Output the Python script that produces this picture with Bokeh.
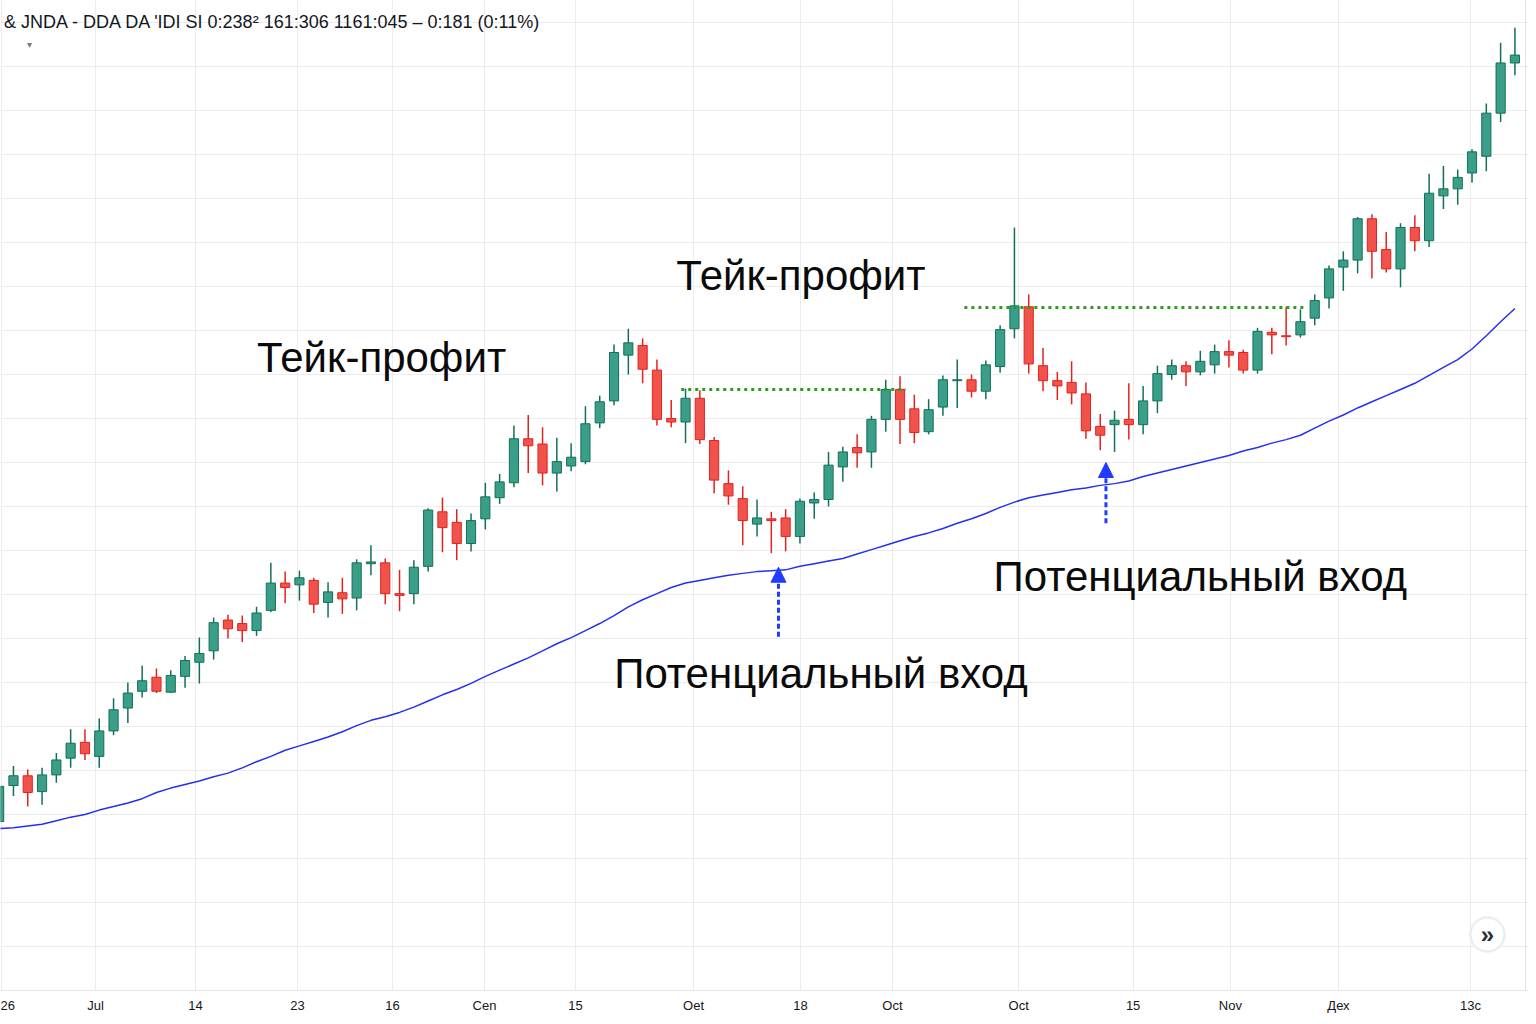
from bokeh.plotting import figure
from bokeh.models import (Range1d, FixedTicker, SingleIntervalTicker, Label, Arrow,
                          NormalHead, Span, ColumnDataSource)
from bokeh.embed import file_html
from bokeh.resources import INLINE

# ---------------- data ----------------
opens = [119.2, 123.3, 124.4, 122.6, 124.5, 126.4, 128.2, 126.6, 129.5, 132.1,
         134.0, 135.6, 133.9, 135.7, 137.3, 138.6, 142.1, 141.7, 140.9, 143.2,
         146.3, 146.1, 146.6, 144.1, 145.2, 144.6, 148.5, 148.6, 145.1, 145.1,
         148.2, 154.4, 153.2, 150.8, 153.6, 156.0, 157.7, 162.7, 162.1, 158.8,
         159.6, 160.1, 164.5, 167.0, 172.2, 173.3, 170.5, 165.0, 164.6, 167.3,
         162.5, 157.6, 155.9, 153.0, 153.6, 153.7, 151.6, 155.4, 155.8, 159.5,
         161.7, 161.2, 164.9, 168.3, 166.1, 163.5, 166.3, 169.3, 169.4, 168.1,
         170.9, 175.2, 177.7, 171.0, 169.3, 169.1, 167.8, 164.1, 164.3, 164.9,
         164.3, 167.0, 170.0, 171.0, 170.3, 171.1, 172.6, 172.5, 170.5, 174.8,
         174.4, 174.5, 176.4, 178.7, 182.2, 183.0, 187.7, 184.2, 182.0, 186.7,
         185.2, 190.3, 191.1, 192.9, 194.8, 199.7, 205.4]
highs = [123.8, 125.5, 125.1, 125.3, 127.0, 129.7, 129.7, 130.9, 133.2, 135.0,
         136.9, 136.6, 136.4, 138.0, 140.1, 142.4, 142.7, 142.6, 143.6, 148.6,
         147.6, 147.7, 146.9, 146.4, 146.9, 149.0, 150.6, 149.1, 147.8, 148.9,
         154.8, 156.0, 154.7, 154.2, 157.7, 158.7, 164.2, 165.4, 164.0, 162.8,
         162.2, 166.4, 167.6, 173.4, 175.2, 174.1, 171.7, 167.1, 168.4, 168.2,
         162.9, 159.1, 157.3, 155.8, 154.4, 154.7, 155.9, 156.6, 161.2, 161.8,
         163.2, 165.3, 169.4, 169.8, 167.7, 167.2, 169.9, 171.7, 170.0, 171.6,
         175.6, 186.7, 179.1, 173.0, 170.3, 171.5, 169.1, 165.5, 165.9, 169.0,
         168.7, 171.0, 171.7, 171.5, 172.7, 173.4, 173.9, 172.8, 175.3, 175.3,
         177.7, 177.4, 179.1, 182.4, 184.0, 187.9, 188.2, 186.2, 187.2, 188.1,
         192.8, 193.7, 193.3, 195.6, 200.8, 207.7, 209.4]
lows = [118.9, 122.1, 120.9, 121.1, 123.6, 125.3, 126.2, 125.3, 129.0, 130.4,
        133.3, 133.8, 133.8, 134.4, 134.9, 137.6, 140.0, 139.6, 140.3, 143.0,
        144.0, 144.3, 142.9, 142.4, 142.8, 143.2, 147.2, 143.9, 143.1, 143.9,
        147.6, 149.8, 148.9, 149.9, 152.4, 155.3, 157.2, 158.8, 157.4, 156.7,
        159.0, 159.8, 163.9, 166.5, 170.0, 169.0, 164.2, 164.0, 162.2, 162.1,
        156.5, 155.2, 150.6, 151.6, 149.7, 149.9, 150.8, 153.6, 155.0, 157.8,
        159.4, 159.4, 163.5, 162.1, 162.2, 163.2, 165.3, 166.2, 167.4, 167.2,
        170.2, 174.1, 170.1, 168.1, 167.1, 166.6, 162.7, 161.4, 161.2, 162.6,
        163.2, 165.6, 169.4, 168.7, 169.9, 170.1, 170.8, 170.1, 170.1, 172.3,
        173.3, 174.2, 175.6, 177.5, 179.5, 181.5, 180.9, 181.6, 179.9, 184.0,
        184.5, 188.8, 189.3, 191.8, 193.1, 198.7, 204.0]
closes = [123.2, 124.4, 122.5, 124.5, 126.2, 128.1, 126.9, 129.5, 131.9, 133.8,
          135.2, 134.0, 135.8, 137.5, 138.3, 141.8, 141.1, 140.9, 142.9, 146.3,
          145.8, 146.9, 143.9, 145.3, 144.5, 148.6, 148.7, 145.1, 144.9, 148.1,
          154.6, 152.6, 150.8, 153.4, 156.1, 157.8, 162.7, 161.9, 158.8, 160.1,
          160.6, 164.4, 166.9, 172.5, 173.6, 170.6, 164.9, 164.6, 167.3, 162.6,
          158.0, 156.2, 153.4, 153.7, 153.4, 151.6, 155.6, 155.8, 159.7, 161.2,
          161.1, 164.9, 168.3, 164.9, 163.4, 166.0, 169.4, 169.4, 168.1, 171.1,
          175.1, 177.8, 171.2, 169.3, 168.7, 167.9, 163.6, 163.1, 164.8, 164.3,
          167.0, 170.1, 171.0, 170.3, 171.5, 172.6, 172.2, 170.5, 174.9, 174.5,
          174.3, 176.0, 178.4, 182.0, 183.0, 187.7, 184.0, 182.0, 186.7, 185.2,
          190.6, 191.1, 192.4, 195.3, 199.7, 205.4, 206.3]
ma = [118.4, 118.5, 118.7, 118.9, 119.3, 119.7, 120.0, 120.5, 120.9, 121.3,
      121.8, 122.5, 123.0, 123.4, 123.8, 124.3, 124.7, 125.3, 126.0, 126.6,
      127.3, 127.8, 128.3, 128.8, 129.4, 130.1, 130.7, 131.1, 131.6, 132.2,
      132.9, 133.6, 134.2, 134.9, 135.7, 136.4, 137.1, 137.8, 138.6, 139.4,
      140.1, 140.9, 141.7, 142.6, 143.6, 144.4, 145.1, 145.8, 146.3, 146.6,
      146.9, 147.2, 147.4, 147.6, 147.7, 147.8, 148.2, 148.5, 148.8, 149.1,
      149.6, 150.1, 150.6, 151.1, 151.6, 152.0, 152.5, 153.1, 153.6, 154.2,
      154.9, 155.5, 156.0, 156.3, 156.6, 156.9, 157.1, 157.4, 157.6, 157.9,
      158.4, 158.8, 159.2, 159.6, 160.0, 160.4, 160.8, 161.3, 161.7, 162.2,
      162.6, 163.1, 163.9, 164.7, 165.4, 166.2, 166.9, 167.6, 168.3, 169.0,
      169.9, 170.8, 171.7, 172.9, 174.4, 176.0, 177.5]

tick_pos = [0.17, 6.74, 13.73, 20.86, 27.5, 33.94, 40.3, 48.56, 56.04, 62.47, 71.3,
            79.3, 86.1, 93.66, 102.9]
tick_labels = ["26", "Jul", "14", "23", "16", "Cen", "15", "Oet", "18", "Oct", "Oct",
               "15", "Nov", "Дех", "13c"]

# take-profit levels (dotted) and entry arrows
tp_start = [47.7, 67.5]
tp_end = [63.4, 91.3]
tp_level = [168.3, 177.6]
entry_x = [54.5, 77.4]
entry_from = [140.2, 153.1]
entry_to = [148.1, 160.0]

# annotation texts
note_text = ["Тейк-профит", "Тейк-профит", "Потенциальный вход", "Потенциальный вход"]
note_x = [26.74, 56.07, 57.47, 84.0]
note_y = [171.98, 181.21, 136.07, 147.09]

header = "& JNDA - DDA   DA  'IDI SI  0:238\u00b2  161:306  1161:045 \u2013 0:181 (0:11%)"

# ---------------- figure ----------------
GREEN_F, GREEN_L = "#3b9e88", "#127058"
RED_F, RED_L = "#ef534b", "#e3221e"
BLUE = "#1f3cff"
MA_BLUE = "#2430f0"
TP_GREEN = "#2e9c1c"
FONT = "Liberation Sans"

n = len(opens)
idx = list(range(n))
up = [c >= o for o, c in zip(opens, closes)]
src = ColumnDataSource(dict(
    x=idx, high=highs, low=lows,
    top=[max(o, c) for o, c in zip(opens, closes)],
    bottom=[min(o, c) for o, c in zip(opens, closes)],
    fill=[GREEN_F if u else RED_F for u in up],
    line=[GREEN_L if u else RED_L for u in up],
))

p = figure(width=1536, height=1024, output_backend="svg", toolbar_location=None,
           x_range=Range1d(0.094, 106.95), y_range=Range1d(100, 212.5),
           y_axis_location=None,
           min_border_left=0, min_border_right=8, min_border_top=0,
           min_border_bottom=34)
p.background_fill_color = "white"
p.border_fill_color = "white"
p.outline_line_color = None

# grids
p.ygrid.ticker = SingleIntervalTicker(interval=5)
p.ygrid.grid_line_color = "#ececef"
p.xgrid.grid_line_color = "#ececef"

# x axis
p.xaxis.ticker = FixedTicker(ticks=tick_pos)
p.xaxis.major_label_overrides = {t: l for t, l in zip(tick_pos, tick_labels)}
p.xaxis.axis_line_color = "#e0e3eb"
p.xaxis.major_tick_line_color = None
p.xaxis.minor_tick_line_color = None
p.xaxis.major_label_standoff = 1
p.xaxis.major_label_text_font = FONT
p.xaxis.major_label_text_font_size = "13px"
p.xaxis.major_label_text_color = "#131722"

# right border of the price pane
p.add_layout(Span(location=106.74, dimension="height", line_color="#e0e3eb", line_width=1))

# moving average
p.line(idx, ma, line_color=MA_BLUE, line_width=1.5)

# candles
p.segment(x0="x", y0="low", x1="x", y1="high", line_color="line", line_width=1.5, source=src)
p.vbar(x="x", width=0.64, top="top", bottom="bottom", fill_color="fill",
       line_color="line", line_width=1, source=src)

# take-profit levels
p.segment(x0=tp_start, y0=tp_level, x1=tp_end, y1=tp_level, line_color=TP_GREEN,
          line_width=3, line_dash="3 4")

# entry arrows
for ex, y0, y1 in zip(entry_x, entry_from, entry_to):
    p.add_layout(Arrow(x_start=ex, y_start=y0, x_end=ex, y_end=y1,
                       line_color=BLUE, line_width=3, line_dash="5 3",
                       end=NormalHead(size=15, fill_color=BLUE, line_color=BLUE,
                                      line_width=1)))

# annotation texts
for t, x, y in zip(note_text, note_x, note_y):
    p.add_layout(Label(x=x, y=y, text=t, text_font=FONT, text_font_size="42px",
                       text_color="#0a0a0a", text_align="center",
                       text_baseline="alphabetic"))

# header (legend line)
p.add_layout(Label(x=0.346, y=210.11, text=header, text_font=FONT,
                   text_font_size="18px", text_color="#131722",
                   text_baseline="alphabetic"))
p.add_layout(Label(x=1.98, y=207.45, text="\u25be", text_font=FONT,
                   text_font_size="10px", text_color="#787b86",
                   text_baseline="alphabetic"))

# scroll button
p.scatter([104.08], [106.36], marker="circle", size=37, fill_color="#eeeeee",
          line_color=None, fill_alpha=0.8)
p.scatter([104.08], [106.36], marker="circle", size=33, fill_color="white",
          line_color="#e6e8ee", line_width=1)
p.add_layout(Label(x=104.08, y=106.36, text="\u00bb", text_font=FONT,
                   text_font_size="24px", text_font_style="bold",
                   text_color="#2a2e39", text_align="center", text_baseline="middle"))

open("out.html", "w").write(file_html(p, INLINE))
